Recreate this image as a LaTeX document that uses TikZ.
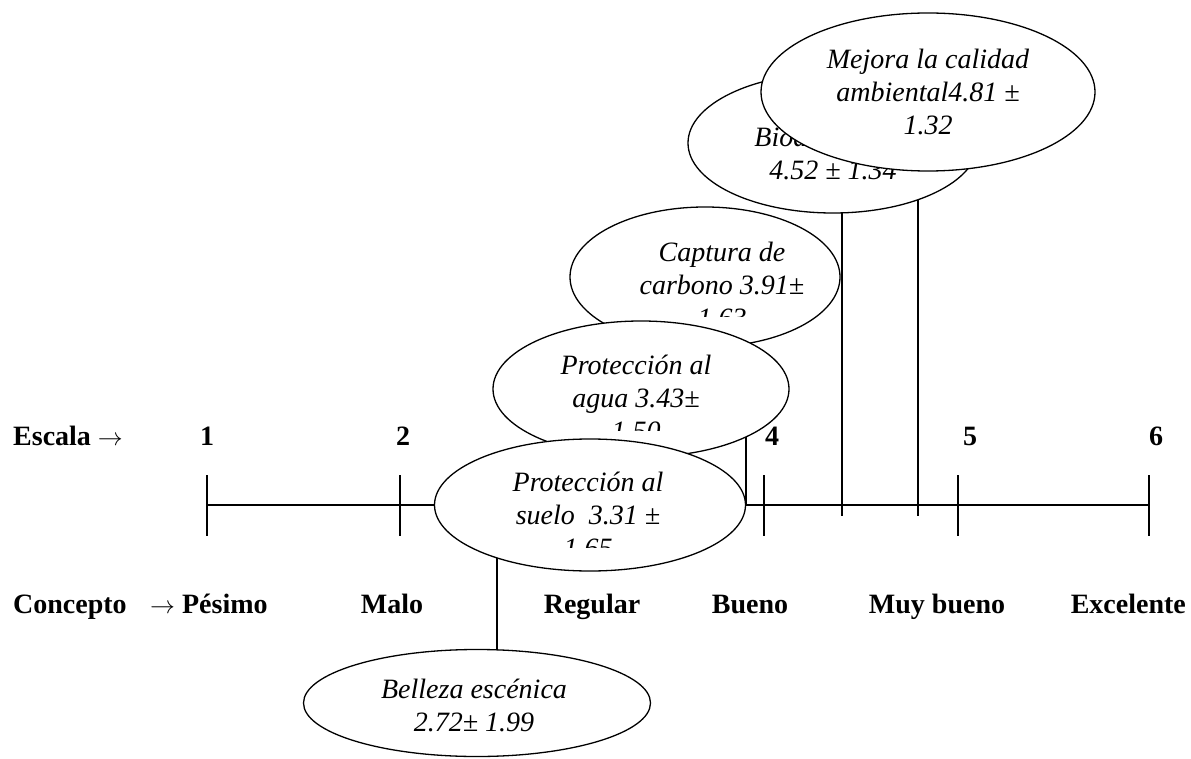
\documentclass[tikz,border=0pt]{standalone}
\usepackage{fontspec}
\setmainfont{Liberation Serif}
\usetikzlibrary{shapes.geometric,backgrounds}

\tikzset{
  oval/.style={draw=black, ellipse, fill=white, line width=1.3pt, inner sep=0pt},
  ovaltext/.style={align=center, inner sep=0pt, font=\fontsize{28}{33}\selectfont\itshape},
  lbl/.style={inner sep=0pt, anchor=base, font=\fontsize{28}{30}\selectfont\bfseries},
  axis/.style={line width=2pt},
  conn/.style={line width=1.5pt}
}

\begin{document}
\begin{tikzpicture}[x=1pt, y=-1pt]
\useasboundingbox (0,0) rectangle (1191,759);

% points on the scale
\coordinate (s1) at (207,505);
\coordinate (s2) at (400,505);
\coordinate (s4) at (764,505);
\coordinate (s5) at (958,505);
\coordinate (s6) at (1149,505);
\coordinate (fbio) at (842,516);
\coordinate (fmej) at (918,516);
\coordinate (fbel) at (497,660);

% labels
\node[lbl, anchor=base west] (escala) at (13,445) {Escala $\rightarrow$};
\node[lbl] (n1) at (207,445) {1};
\node[lbl] (n2) at (403,445) {2};
\node[lbl] (n4) at (772,445) {4};
\node[lbl] (n5) at (970,445) {5};
\node[lbl] (n6) at (1156,445) {6};

\node[lbl, anchor=base west] (concepto) at (13,613) {Concepto};
\node[lbl, anchor=base west] (pesimo) at (150,613) {$\rightarrow$ Pésimo};
\node[lbl] (malo) at (392,613) {Malo};
\node[lbl] (regular) at (592,613) {Regular};
\node[lbl] (bueno) at (750,613) {Bueno};
\node[lbl] (muybueno) at (937,613) {Muy bueno};
\node[lbl, anchor=base east] (excelente) at (1186,613) {Excelente};

% ellipses
\node[oval, minimum width=270pt, minimum height=140pt] (captura) at (705,277) {};
\begin{scope}
  \clip (560,200) rectangle (850,316);
  \node[ovaltext] (capturatxt) at (722,285) {Captura de\\carbono 3.91±\\1.63};
\end{scope}

\node[oval, minimum width=296pt, minimum height=136pt] (agua) at (641,389) {};
\begin{scope}
  \clip (480,310) rectangle (800,430);
  \node[ovaltext] (aguatxt) at (636,398) {Protección al\\agua 3.43±\\1.50};
\end{scope}

\node[oval, minimum width=311pt, minimum height=132pt] (suelo) at (590,505) {};
\begin{scope}
  \clip (430,440) rectangle (750,547);
  \node[ovaltext] (suelotxt) at (588,515) {Protección al\\suelo\ \ 3.31 ±\\1.65};
\end{scope}

\node[oval, minimum width=290pt, minimum height=140pt] (bio) at (833,143) {};
\node[ovaltext] (biotxt) at (833,153) {Biodiversidad\\4.52 ± 1.34};

\node[oval, minimum width=334pt, minimum height=158pt] (mejora) at (928,92) {};
\node[ovaltext] (mejoratxt) at (928,92) {Mejora la calidad\\ambiental4.81 ±\\1.32};

\node[oval, minimum width=347pt, minimum height=107pt] (belleza) at (477,703) {};
\node[ovaltext] (bellezatxt) at (474,705) {Belleza escénica\\2.72± 1.99};

% scale and connectors behind the ellipses
\begin{pgfonlayer}{background}
\draw[axis] (s1) -- (s6);
\foreach \p in {s1,s2,s4,s5,s6}
  \draw[axis] (\p) ++(0,-30) -- ++(0,61);
\draw[conn] (mejora.center -| fmej) -- (fmej);
\draw[conn] (bio.center -| fbio) -- (fbio);
\draw[conn] (agua.center -| suelo.east) -- (suelo.east);
\draw[conn] (suelo.center -| fbel) -- (fbel);
\end{pgfonlayer}
\end{tikzpicture}
\end{document}
